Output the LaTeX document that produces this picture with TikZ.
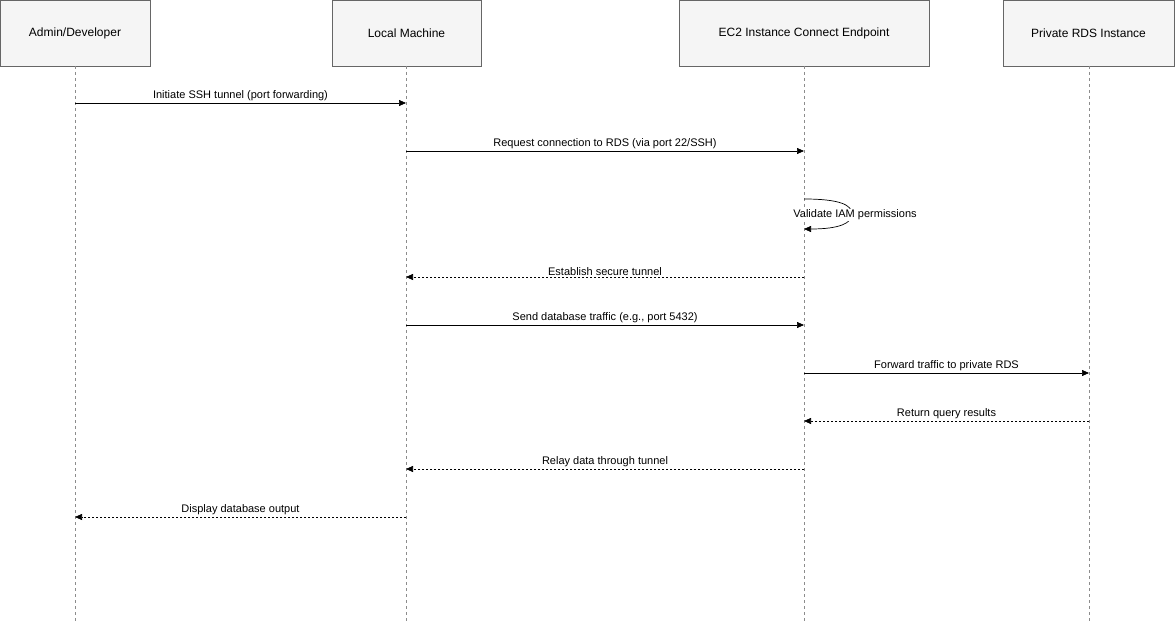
\documentclass[tikz,border=0pt]{standalone}
\usepackage{fontspec}
\setmainfont{Liberation Sans}
\usetikzlibrary{arrows.meta}
\begin{document}
\begin{tikzpicture}[x=1pt,y=-1pt,
 actor/.style={draw=black!60,fill=black!4,minimum width=#1,minimum height=66pt,inner sep=0pt,font=\fontsize{12}{14}\selectfont},
 life/.style={draw=black!45,dash pattern=on 3pt off 3pt,line width=0.6pt},
 msg/.style={-{Triangle[length=7pt,width=6pt]},line width=0.7pt},
 ret/.style={msg,dash pattern=on 2pt off 2pt},
 lbl/.style={font=\fontsize{11}{13}\selectfont,inner sep=1.5pt,above}]
\useasboundingbox (0,0) rectangle (1175,623);
\node[actor=150pt] (a) at (75,33) {Admin/Developer};
\node[actor=149pt] (l) at (406.5,33) {Local Machine};
\node[actor=250pt] (e) at (804,33) {EC2 Instance Connect Endpoint};
\node[actor=171pt] (r) at (1088.5,33) {Private RDS Instance};
\coordinate (ab) at (75,623); \coordinate (lb) at (406,623);
\coordinate (eb) at (804,623); \coordinate (rb) at (1089,623);
\draw[life] (75,66) -- (ab);
\draw[life] (406,66) -- (lb);
\draw[life] (804,66) -- (eb);
\draw[life] (1089,66) -- (rb);
\draw[msg] (75,103) -- node[lbl]{Initiate SSH tunnel (port forwarding)} (406,103);
\draw[msg] (406,151) -- node[lbl]{Request connection to RDS (via port 22/SSH)} (804,151);
\draw[msg] (804,199) .. controls (840,199) and (852,205) .. (852,214) .. controls (852,223) and (840,229) .. (804,229);
\node[font=\fontsize{11}{13}\selectfont,fill=white,inner sep=1pt] (v) at (855,215) {Validate IAM permissions};
\draw[ret] (804,277) -- node[lbl]{Establish secure tunnel} (406,277);
\draw[msg] (406,325) -- node[lbl]{Send database traffic (e.g., port 5432)} (804,325);
\draw[msg] (804,373) -- node[lbl]{Forward traffic to private RDS} (1089,373);
\draw[ret] (1089,421) -- node[lbl]{Return query results} (804,421);
\draw[ret] (804,469) -- node[lbl]{Relay data through tunnel} (406,469);
\draw[ret] (406,517) -- node[lbl]{Display database output} (75,517);
\end{tikzpicture}
\end{document}
